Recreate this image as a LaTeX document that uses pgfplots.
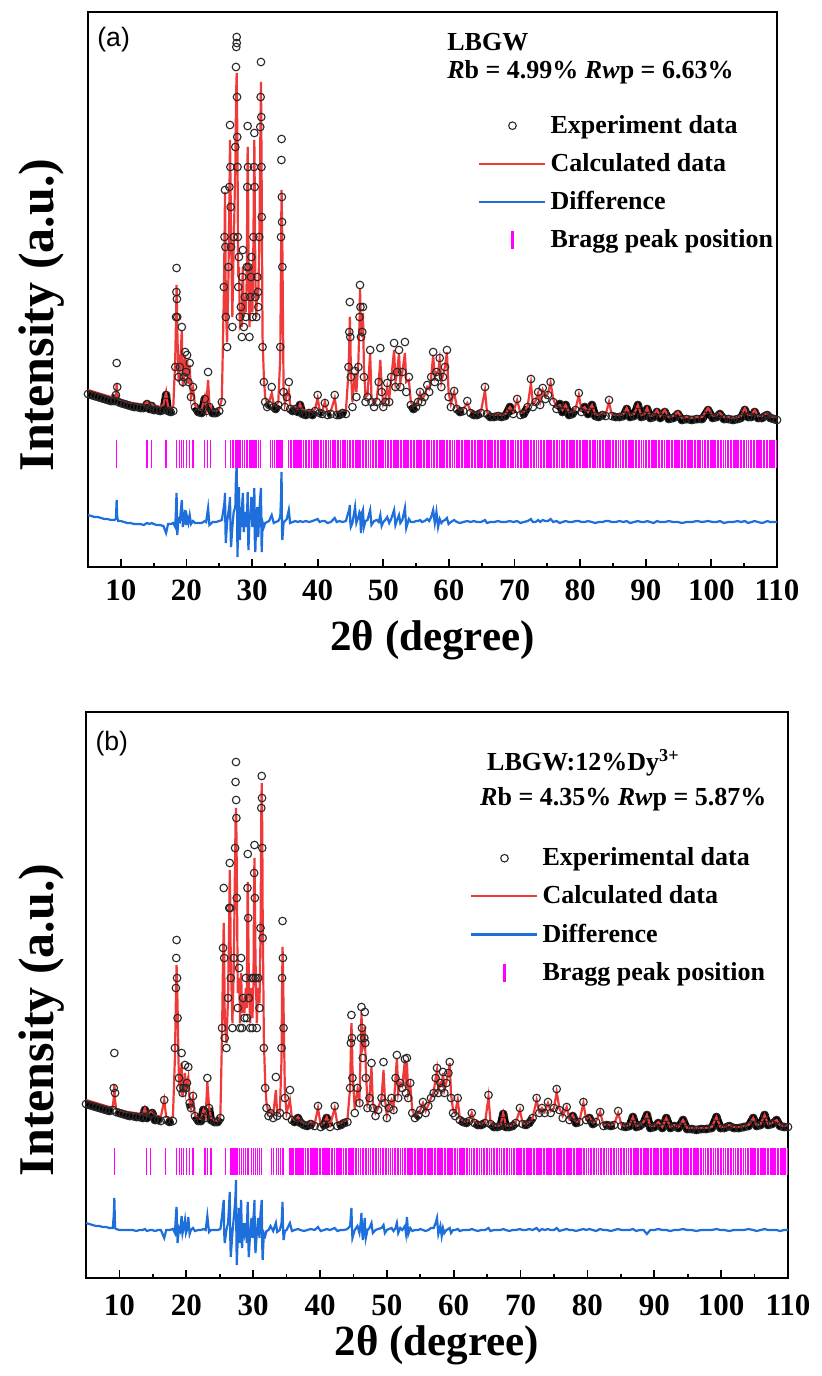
\documentclass[border=0pt]{standalone}
\usepackage{fontspec}
\setmainfont{Liberation Serif}
\setsansfont{Liberation Sans}
\usepackage{pgfplots}
\usepackage{pgfplotstable}
\pgfplotsset{compat=1.18}
\definecolor{obsgray}{RGB}{40,40,40}
\definecolor{calcred}{RGB}{240,58,58}
\definecolor{diffblue}{RGB}{30,110,220}
\definecolor{braggmag}{RGB}{255,0,255}

% LBGW: x obs calc diff (intensity in arbitrary units)
\pgfplotstableread{
x obs calc diff
5.0 173 177 52
5.5 172 176 51
6.0 171 175 50
6.5 170 174 50
7.0 169 173 49
7.5 168 172 48
8.0 167 171 48
8.5 166 170 47
9.0 166 169 47
9.25 172 171 48
9.37 204 184 67
9.45 180 176 50
9.6 165 168 46
10.0 164 167 46
10.5 163 166 45
11.0 162 165 44
11.5 161 164 44
12.0 160 164 43
12.5 160 163 43
13.0 159 163 43
13.5 159 162 42
14.0 163 165 44
14.4 158 162 43
14.7 161 163 44
15.0 157 161 43
15.5 157 161 42
16.0 156 160 42
16.5 157 162 41
16.9 172 175 34
17.2 156 160 43
17.6 155 159 43
18.0 156 160 44
18.3 200 210 40
18.42 250 250 60
18.47 275 270 70
18.5 299 282 74
18.55 268 262 50
18.6 250 240 32
18.8 190 185 48
19.0 200 198 46
19.3 240 237 67
19.45 185 180 40
19.6 190 190 46
19.8 215 212 57
19.95 195 190 42
20.1 212 207 50
20.3 185 183 44
20.5 204 202 52
20.7 170 170 43
21.0 180 179 46
21.3 160 162 44
21.8 155 158 44
22.3 154 157 44
22.8 168 170 46
23.0 156 160 45
23.3 195 187 59
23.5 160 163 42
24.0 154 157 45
24.5 154 156 45
25.0 156 158 46
25.4 165 168 47
25.7 280 270 60
25.8 330 325 65
25.88 377 375 74
25.94 320 330 40
26.0 250 260 24
26.2 220 225 45
26.4 300 290 55
26.55 380 370 62
26.64 442 427 70
26.7 400 395 45
26.75 360 365 30
26.8 320 330 20
27.0 240 250 40
27.2 330 320 55
27.45 420 400 60
27.55 500 460 90
27.6 520 480 95
27.66 530 494 102
27.67 524 490 100
27.71 470 465 70
27.74 430 440 40
27.78 400 420 10
27.84 330 340 30
27.9 280 290 45
28.0 310 300 80
28.15 250 245 27
28.3 260 250 60
28.45 230 240 40
28.52 290 280 65
28.6 317 300 74
28.75 240 250 35
28.9 270 262 55
29.05 250 255 40
29.2 300 290 50
29.27 380 370 60
29.33 441 420 75
29.38 400 395 40
29.45 300 320 17
29.6 230 240 45
29.75 270 262 55
29.83 290 285 62
29.9 310 300 70
30.05 250 255 40
30.2 330 320 55
30.29 400 390 65
30.35 434 427 79
30.41 380 380 30
30.5 270 290 15
30.65 250 250 50
30.8 290 280 60
30.9 275 270 50
30.95 260 270 30
31.1 330 320 55
31.25 440 420 70
31.31 470 460 75
31.36 505 485 79
31.41 450 445 45
31.44 400 410 25
31.48 350 370 15
31.6 220 230 45
31.8 185 190 40
32.0 165 170 44
32.3 160 164 45
32.6 162 165 46
33.0 180 174 52
33.3 160 163 44
33.6 158 161 45
34.0 162 165 46
34.3 220 210 50
34.42 330 310 70
34.47 407 360 90
34.5 428 377 95
34.55 370 355 50
34.58 345 340 35
34.62 300 320 27
34.8 175 180 44
35.0 160 163 46
35.3 170 172 48
35.6 185 177 57
35.8 158 162 44
36.2 156 160 45
36.6 158 161 46
37.0 155 158 45
37.3 162 163 46
37.7 153 157 45
38.2 152 156 46
38.7 154 157 45
39.2 152 155 46
39.6 156 158 47
40.0 172 169 48
40.3 154 157 45
40.7 153 156 46
41.1 164 165 46
41.5 152 155 44
42.0 153 156 45
42.6 172 169 49
42.9 152 155 45
43.3 152 155 46
43.8 154 157 45
44.3 153 156 46
44.7 200 195 55
44.82 235 225 58
44.9 265 250 62
44.97 230 235 45
45.05 190 200 40
45.3 160 165 44
45.7 196 194 60
45.9 170 175 44
46.2 200 205 50
46.38 250 245 55
46.45 282 279 54
46.52 260 262 45
46.6 230 240 34
46.8 235 230 55
46.9 260 254 57
47.05 190 200 40
47.3 165 170 46
47.6 170 172 47
48.0 217 214 57
48.2 165 170 42
48.6 160 163 46
49.0 165 168 47
49.3 185 185 45
49.55 219 207 52
49.75 175 180 41
50.0 160 163 45
50.3 165 168 47
50.6 184 180 50
50.9 165 168 44
51.2 190 188 48
51.65 224 217 57
51.85 180 185 42
52.1 195 195 47
52.4 217 214 52
52.6 180 185 44
52.9 195 195 47
53.3 225 214 59
53.5 175 185 39
53.9 190 187 48
54.2 162 165 45
54.6 158 161 45
55.0 160 162 46
55.3 165 167 46
55.6 175 174 47
55.9 165 167 45
56.3 170 172 46
56.7 182 180 48
57.0 175 178 46
57.3 190 190 50
57.6 215 212 57
57.85 185 190 44
58.1 195 195 55
58.35 190 195 40
58.6 209 207 48
58.85 180 185 44
59.1 190 192 46
59.4 200 200 47
59.7 217 215 49
59.95 170 175 43
60.3 160 163 45
60.8 176 175 47
61.2 158 160 45
61.7 155 157 44
62.2 156 158 45
62.8 166 164 46
63.3 154 156 45
63.8 152 155 46
64.3 152 154 45
64.9 154 156 45
65.5 180 177 47
65.8 153 155 44
66.3 150 153 45
66.9 150 152 45
67.5 151 153 46
68.0 150 152 45
68.6 151 153 45
69.3 160 160 46
69.8 153 155 45
70.4 168 167 46
70.9 152 154 44
71.4 153 155 45
72.0 160 161 46
72.5 188 184 48
72.8 160 163 45
73.2 165 166 45
73.6 175 174 47
73.9 162 165 45
74.3 179 177 47
74.7 168 170 46
75.1 172 174 46
75.5 185 184 48
75.9 165 168 45
76.4 158 160 46
76.9 163 162 44
77.3 155 157 45
77.8 162 162 46
78.3 152 155 45
78.8 153 155 45
79.3 157 158 46
79.8 174 172 46
80.2 155 157 45
80.7 160 160 45
81.2 153 155 46
81.8 162 162 45
82.3 151 153 44
82.8 150 152 45
83.4 152 154 45
83.9 151 153 46
84.4 167 165 46
84.8 151 153 45
85.4 150 152 45
86.0 150 152 46
86.6 151 153 45
87.1 158 159 46
87.6 150 152 44
88.2 151 153 45
88.8 162 162 46
89.3 150 152 45
89.8 151 153 45
90.2 158 159 46
90.7 149 151 45
91.2 150 152 44
91.7 155 157 46
92.2 149 151 45
92.9 155 157 45
93.5 148 150 46
94.2 149 151 45
94.9 153 155 45
95.5 147 149 44
96.2 148 150 45
97.0 147 149 45
97.8 148 150 46
98.6 148 150 45
99.5 157 159 46
100.2 149 151 45
100.8 150 152 45
101.3 153 154 46
101.9 148 150 44
102.6 148 150 45
103.3 147 149 45
104.0 148 150 46
104.5 149 151 45
105.1 157 159 46
105.6 150 152 44
106.1 150 152 45
106.6 155 157 46
107.1 149 151 45
107.7 149 151 44
108.2 151 153 45
108.5 152 154 46
109.0 149 151 45
109.5 148 150 45
110.0 147 150 45
}\tabA

% LBGW:12%Dy: x obs calc diff
\pgfplotstableread{
x obs calc diff
5.0 174 178 55
5.5 173 177 54
6.0 172 176 53
6.5 171 175 52
7.0 170 174 52
7.5 169 173 51
8.0 168 172 51
8.5 167 171 50
9.0 168 171 50
9.15 190 180 62
9.24 225 193 80
9.35 185 178 50
9.5 166 169 49
10.0 165 168 48
10.5 164 167 48
11.0 163 166 48
11.5 162 166 48
12.0 162 165 48
12.5 161 165 47
13.0 161 164 48
13.5 160 164 48
13.8 168 170 49
14.1 160 163 47
14.6 164 166 48
14.9 165 167 48
15.3 158 162 47
15.8 158 162 48
16.2 157 161 48
16.7 178 178 40
17.0 158 161 48
17.5 156 160 48
18.0 157 161 49
18.3 230 220 45
18.45 290 280 62
18.5 320 300 68
18.55 338 313 71
18.62 300 295 50
18.7 260 270 35
18.9 200 195 50
19.1 190 190 47
19.3 225 215 62
19.45 185 182 45
19.6 190 188 50
19.8 213 205 58
19.95 190 188 45
20.1 195 195 48
20.3 211 201 61
20.5 175 178 44
20.7 170 170 48
21.0 182 181 50
21.3 162 163 47
21.8 157 160 48
22.2 157 159 48
22.55 168 168 49
22.9 160 162 48
23.15 200 196 62
23.4 170 172 46
23.7 158 160 48
24.2 156 158 48
24.7 156 157 48
25.1 160 162 49
25.35 250 245 62
25.5 330 320 72
25.6 390 355 78
25.67 320 325 45
25.75 240 260 35
26.0 230 235 48
26.25 280 280 55
26.42 370 360 75
26.5 415 408 86
26.58 370 375 40
26.65 300 320 21
26.9 250 255 45
27.1 320 310 60
27.3 430 420 75
27.37 496 455 85
27.43 516 470 98
27.46 478 462 70
27.49 460 450 45
27.55 380 410 13
27.7 270 285 40
27.9 310 300 70
28.05 250 255 35
28.2 320 305 78
28.35 250 265 30
28.5 280 275 55
28.7 260 265 45
28.9 300 290 55
29.05 260 270 35
29.15 390 380 70
29.2 424 396 76
29.26 360 360 40
29.35 280 300 21
29.55 250 255 45
29.75 300 290 60
29.9 250 260 40
30.05 300 295 60
30.15 405 400 70
30.2 433 420 78
30.26 380 385 40
30.35 300 320 25
30.55 250 255 45
30.75 300 290 60
30.95 270 275 40
31.1 350 340 65
31.22 470 465 72
31.28 502 495 78
31.33 480 470 50
31.37 430 440 30
31.42 340 370 18
31.6 230 240 45
31.8 190 195 42
32.0 170 175 47
32.3 162 165 48
32.6 165 167 52
33.0 160 163 47
33.4 201 188 55
33.6 162 164 46
34.0 165 167 48
34.25 230 220 55
34.33 300 290 65
34.4 357 331 76
34.45 320 315 55
34.55 250 270 38
34.75 180 185 47
35.0 162 165 48
35.5 188 178 55
35.8 158 160 47
36.2 156 158 48
36.7 160 161 49
37.1 155 157 48
37.6 153 155 47
38.1 152 154 48
38.6 154 156 49
39.2 152 154 48
39.7 172 170 51
40.1 151 153 47
40.6 153 155 48
41.0 160 161 49
41.5 151 153 48
42.2 172 170 50
42.6 152 154 47
43.1 153 155 48
43.6 155 157 48
44.1 156 158 49
44.5 190 190 52
44.62 235 230 62
44.7 263 255 70
44.78 240 240 50
44.85 200 210 40
45.2 165 168 48
45.6 190 188 52
45.9 175 178 45
46.13 240 240 58
46.2 271 265 65
46.28 250 250 50
46.4 220 230 38
46.63 240 235 55
46.7 266 251 60
46.77 235 230 48
46.85 200 210 40
47.1 170 174 48
47.4 180 180 50
47.7 215 211 55
47.9 170 175 45
48.3 162 165 48
48.7 168 170 49
49.2 180 180 50
49.5 216 208 53
49.7 175 180 45
50.0 160 163 48
50.3 170 172 49
50.7 180 178 50
51.0 168 170 47
51.3 200 200 50
51.5 223 220 55
51.7 180 185 45
52.0 195 195 50
52.3 190 192 48
52.7 219 218 52
52.85 185 190 45
53.0 220 215 61
53.2 180 185 44
53.5 195 193 50
53.8 165 168 47
54.2 160 162 48
54.7 163 165 48
55.0 168 168 49
55.4 176 175 48
55.8 165 167 47
56.2 172 173 48
56.6 180 180 50
57.0 185 186 50
57.3 200 200 55
57.5 210 208 60
57.7 185 188 44
58.0 195 195 52
58.2 190 193 42
58.4 206 205 50
58.6 185 188 45
58.9 195 196 48
59.2 205 205 49
59.4 216 215 50
59.6 180 184 45
59.9 165 168 48
60.2 162 165 48
60.6 180 178 49
60.9 158 160 47
61.4 156 157 48
61.9 155 156 48
62.3 157 158 48
62.7 165 165 49
63.1 155 156 48
63.6 153 155 47
64.1 153 154 48
64.7 155 156 48
65.2 183 181 50
65.5 154 156 47
66.0 151 153 48
66.5 151 152 48
67.0 152 153 48
67.4 164 165 49
67.8 151 153 48
68.3 151 152 47
68.8 152 153 48
69.3 155 156 48
69.9 170 168 49
70.3 154 155 48
70.8 153 154 48
71.3 155 156 49
71.8 160 160 48
72.4 180 178 50
72.8 165 166 47
73.2 170 170 49
73.6 165 166 48
74.1 176 175 49
74.5 165 167 48
75.0 170 170 48
75.4 189 186 50
75.8 168 170 47
76.3 160 162 48
76.9 171 171 49
77.3 158 159 48
77.8 162 163 48
78.3 155 156 47
78.8 156 157 48
79.4 176 175 49
79.8 158 159 48
80.3 160 161 49
80.8 154 155 48
81.3 156 157 47
81.9 166 166 49
82.4 152 153 48
82.9 153 154 48
83.5 152 153 47
84.0 153 154 48
84.6 167 165 49
85.1 152 153 48
85.7 151 152 48
86.3 152 153 48
86.8 161 161 49
87.3 151 152 47
87.8 152 153 48
88.4 155 156 48
88.9 163 163 44
89.4 150 152 48
90.0 151 152 48
90.6 155 156 49
91.2 150 151 48
91.8 160 160 48
92.4 150 151 47
93.0 152 153 48
93.6 150 151 48
94.3 158 158 49
94.9 149 150 48
95.6 149 150 48
96.3 148 150 47
97.0 149 150 48
97.8 149 150 48
98.6 150 151 48
99.3 161 161 49
99.9 150 151 48
100.5 150 151 48
101.2 152 153 47
101.9 150 151 48
102.7 150 151 48
103.4 151 152 48
104.1 152 153 49
104.8 160 160 48
105.3 152 153 47
105.9 153 154 48
106.5 163 163 49
107.0 153 154 48
107.6 154 155 48
108.3 158 158 48
108.8 152 153 47
109.4 151 152 48
110.0 151 153 48
}\tabB

% Bragg reflection positions (2theta)
\pgfplotstableread[row sep=\\]{x\\9.3\\14.0\\14.7\\16.9\\18.5\\19.0\\19.3\\19.6\\20.0\\20.5\\21.0\\22.8\\23.2\\23.7\\25.9\\26.7\\27.0\\27.2\\27.45\\27.7\\28.0\\28.25\\28.55\\28.8\\29.1\\29.35\\29.7\\30.0\\30.3\\30.6\\30.95\\31.3\\32.8\\33.1\\33.45\\33.8\\34.1\\34.4\\34.6\\35.5\\35.8\\36.0\\36.3\\36.5\\36.7\\37.0\\37.3\\37.5\\37.8\\38.1\\38.3\\38.6\\38.8\\39.1\\39.4\\39.6\\39.9\\40.1\\40.4\\40.6\\40.9\\41.2\\41.4\\41.7\\41.9\\42.2\\42.5\\42.7\\43.0\\43.2\\43.5\\43.8\\44.0\\44.3\\44.5\\44.8\\45.0\\45.3\\45.5\\45.8\\46.0\\46.3\\46.5\\46.8\\47.0\\47.3\\47.5\\47.8\\48.0\\48.3\\48.5\\48.8\\49.0\\49.3\\49.5\\49.8\\50.0\\50.3\\50.6\\50.8\\51.1\\51.3\\51.6\\51.8\\52.1\\52.3\\52.6\\52.8\\53.1\\53.3\\53.6\\53.8\\54.1\\54.3\\54.6\\54.8\\55.1\\55.3\\55.6\\55.8\\56.1\\56.3\\56.6\\56.8\\57.1\\57.3\\57.6\\57.8\\58.1\\58.3\\58.6\\58.8\\59.1\\59.3\\59.6\\59.8\\60.1\\60.3\\60.6\\60.9\\61.1\\61.4\\61.6\\61.9\\62.1\\62.4\\62.6\\62.9\\63.1\\63.4\\63.6\\63.9\\64.1\\64.4\\64.6\\64.9\\65.1\\65.4\\65.6\\65.9\\66.1\\66.4\\66.6\\66.9\\67.1\\67.4\\67.6\\67.9\\68.1\\68.4\\68.6\\68.9\\69.1\\69.4\\69.6\\69.9\\70.1\\70.4\\70.6\\70.9\\71.1\\71.4\\71.6\\71.9\\72.1\\72.4\\72.6\\72.9\\73.1\\73.4\\73.6\\73.9\\74.1\\74.4\\74.6\\74.9\\75.1\\75.4\\75.6\\75.9\\76.1\\76.4\\76.6\\76.9\\77.1\\77.4\\77.6\\77.9\\78.1\\78.4\\78.6\\78.9\\79.1\\79.4\\79.6\\79.9\\80.1\\80.4\\80.6\\80.9\\81.1\\81.4\\81.6\\81.9\\82.1\\82.4\\82.6\\82.9\\83.1\\83.4\\83.6\\83.9\\84.1\\84.4\\84.6\\84.9\\85.1\\85.4\\85.6\\85.9\\86.1\\86.4\\86.6\\86.9\\87.1\\87.4\\87.6\\87.9\\88.1\\88.4\\88.6\\88.9\\89.1\\89.4\\89.6\\89.9\\90.1\\90.4\\90.6\\90.9\\91.1\\91.4\\91.6\\91.9\\92.1\\92.4\\92.6\\92.9\\93.1\\93.4\\93.6\\93.9\\94.1\\94.4\\94.6\\94.9\\95.1\\95.4\\95.6\\95.9\\96.1\\96.4\\96.6\\96.9\\97.1\\97.4\\97.6\\97.9\\98.1\\98.4\\98.6\\98.9\\99.1\\99.4\\99.6\\99.9\\100.1\\100.4\\100.6\\100.9\\101.1\\101.4\\101.6\\101.9\\102.1\\102.4\\102.6\\102.9\\103.1\\103.4\\103.6\\103.9\\104.1\\104.4\\104.6\\104.9\\105.1\\105.4\\105.6\\105.9\\106.1\\106.4\\106.6\\106.9\\107.1\\107.4\\107.6\\107.9\\108.1\\108.4\\108.6\\108.9\\109.1\\109.4\\109.6\\109.9\\}\braggTab

\tikzset{txt/.style={anchor=west, inner sep=0pt, font=\bfseries\fontsize{13}{14}\selectfont}}
\pgfplotsset{
  xrd/.style={
    scale only axis, xmin=5, xmax=110,
    xtick={10,20,...,110}, minor x tick num=1, xtick pos=left,
    ytick=\empty, tick align=inside,
    major tick length=4pt, minor tick length=2.2pt,
    tick style={black, line width=0.9pt},
    axis line style={line width=1.1pt},
    /pgf/number format/assume math mode=true,
    legend cell align=left,
    legend style={draw=none, fill=none, inner sep=0pt, row sep=4.5pt,
      font=\bfseries\fontsize{13}{14}\selectfont},
  },
  obsplot/.style={only marks, mark=o, mark size=1.9pt,
    mark options={draw=obsgray, line width=0.55pt},
    legend image code/.code={\draw[mark repeat=2,mark phase=2,##1] plot coordinates {(0pt,0pt) (16.5pt,0pt) (33pt,0pt)};}},
  % dense run of observed points along the background
  bandplot/.style={black, line width=4pt, line join=round, forget plot},
  lineplot/.style={line width=1.1pt,
    legend image code/.code={\draw[##1] (0pt,0pt) -- (33pt,0pt);}},
  braggplot/.style={only marks, mark=|, mark options={draw=braggmag, line width=0.6pt},
    legend image code/.code={\draw[braggmag, line width=1.3pt] (16.5pt,-4.5pt) -- (16.5pt,4.5pt);}},
}

\begin{document}
\begin{tikzpicture}
\useasboundingbox (-44pt,6pt) rectangle (366.5pt,-682pt);

% ---------- (a) LBGW ----------
\begin{axis}[xrd, at={(0pt,0pt)}, anchor=north west,
  width=344.5pt, height=277.5pt, ymin=0, ymax=555,
  xticklabel style={font=\bfseries\fontsize{15.5}{16}\selectfont, yshift=-3pt},
  xlabel={2θ (degree)},
  xlabel style={at={(axis description cs:0.5,-0.1315)}, anchor=center,
    font=\bfseries\fontsize{21.5}{22}\selectfont},
  ylabel={Intensity (a.u.)},
  ylabel style={at={(axis description cs:-0.0668,0.454)}, anchor=center,
    font=\bfseries\fontsize{25}{26}\selectfont},
  legend style={at={(axis description cs:0.566,0.822)}, anchor=north west},
]
\addplot[bandplot, restrict x to domain=5:25, restrict y to domain=0:175] table[x=x, y=obs]{\tabA};
\addplot[bandplot, restrict x to domain=24:110, restrict y to domain=0:163] table[x=x, y=obs]{\tabA};
\addplot[obsplot] table[x=x, y=obs]{\tabA};
\addlegendentry{Experiment data}
\addplot[lineplot, calcred] table[x=x, y=calc]{\tabA};
\addlegendentry{Calculated data}
\addplot[lineplot, diffblue] table[x=x, y=diff]{\tabA};
\addlegendentry{Difference}
\addplot[braggplot, mark size=7pt] table[x=x, y=x, y expr=113]{\braggTab};
\addlegendentry{Bragg peak position}
\node[txt, font=\sffamily\fontsize{13.3}{14}\selectfont] at (axis description cs:0.013,0.950) {(a)};
\node[txt] at (axis description cs:0.521,0.946) {LBGW};
\node[txt] at (axis description cs:0.521,0.892) {\textit{R}b = 4.99\% \textit{Rw}p = 6.63\%};
\end{axis}

% ---------- (b) LBGW:12%Dy ----------
\begin{axis}[xrd, at={(-1pt,-350pt)}, anchor=north west,
  width=351pt, height=283pt, ymin=0, ymax=566,
  xticklabel style={font=\bfseries\fontsize{15.5}{16}\selectfont, yshift=-5pt},
  xlabel={2θ (degree)},
  xlabel style={at={(axis description cs:0.5,-0.118)}, anchor=center,
    font=\bfseries\fontsize{21.5}{22}\selectfont},
  ylabel={Intensity (a.u.)},
  ylabel style={at={(axis description cs:-0.0627,0.456)}, anchor=center,
    font=\bfseries\fontsize{25}{26}\selectfont},
  legend style={at={(axis description cs:0.547,0.768)}, anchor=north west},
]
\addplot[bandplot, restrict x to domain=5:25, restrict y to domain=0:176] table[x=x, y=obs]{\tabB};
\addplot[bandplot, restrict x to domain=24:110, restrict y to domain=0:164] table[x=x, y=obs]{\tabB};
\addplot[obsplot] table[x=x, y=obs]{\tabB};
\addlegendentry{Experimental data}
\addplot[lineplot, calcred] table[x=x, y=calc]{\tabB};
\addlegendentry{Calculated data}
\addplot[lineplot, diffblue] table[x=x, y=diff]{\tabB};
\addlegendentry{Difference}
\addplot[braggplot, mark size=6.75pt] table[x=x, y=x, y expr=116.5]{\braggTab};
\addlegendentry{Bragg peak position}
\node[txt, font=\sffamily\fontsize{13.3}{14}\selectfont] at (axis description cs:0.013,0.945) {(b)};
\node[txt] at (axis description cs:0.571,0.910) {LBGW:12\%Dy\textsuperscript{3+}};
\node[txt] at (axis description cs:0.561,0.845) {\textit{R}b = 4.35\% \textit{Rw}p = 5.87\%};
\end{axis}
\end{tikzpicture}
\end{document}
